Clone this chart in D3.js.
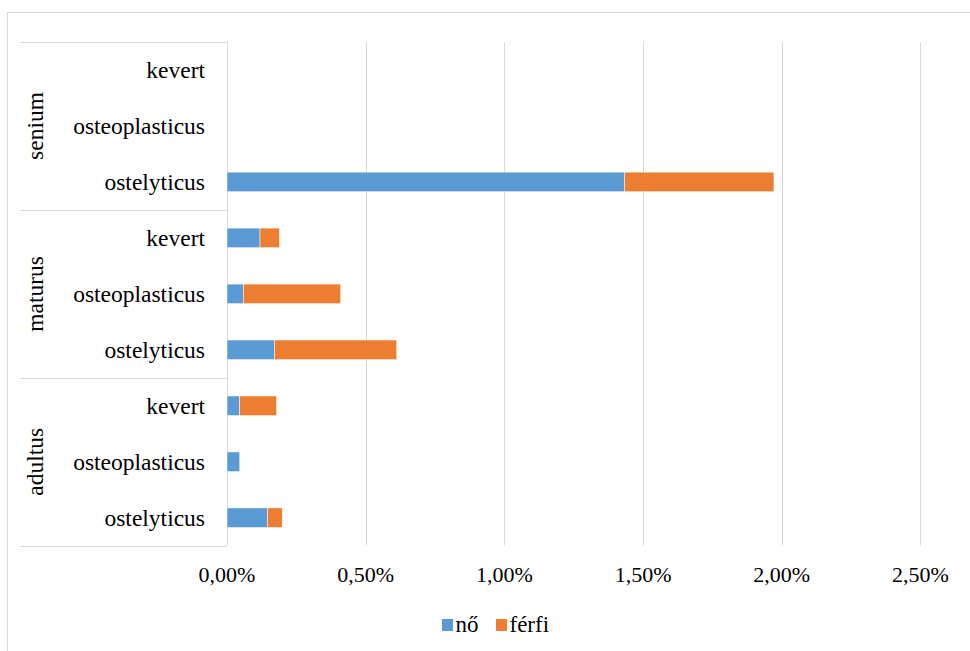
<!DOCTYPE html>
<html>
<head>
<meta charset="utf-8">
<script src="https://cdn.jsdelivr.net/npm/d3@7"></script>
</head>
<body style="margin:0; background:#fff">
<script>
// groups from top to bottom, each with its sub types
const groups = ['senium', 'maturus', 'adultus']
const types = ['kevert', 'osteoplasticus', 'ostelyticus']

// values in percent, ordered group by group, type by type (top to bottom)
const noValues = [0, 0, 1.433, 0.119, 0.059, 0.171, 0.046, 0.046, 0.146]
const ferfiValues = [0, 0, 0.539, 0.070, 0.351, 0.441, 0.133, 0, 0.053]

const seriesNames = ['nő', 'férfi']
const colors = ['#5B9BD5', '#ED7D31']
const xTicks = [0, 0.5, 1, 1.5, 2, 2.5]

const w = 970
const h = 651
const plotLeft = 227, plotRight = 920.4, plotTop = 42, plotBottom = 545.7
const serif = "'Liberation Serif'"

// build rows
const rows = []
groups.forEach((g, gi) => {
    types.forEach((t, ti) => {
        const i = gi * types.length + ti
        rows.push({ key: g + '|' + t, group: g, type: t, no: noValues[i], ferfi: ferfiValues[i] })
    })
})

const xScale = d3.scaleLinear().domain([0, 2.5]).range([plotLeft, plotRight])
const yScale = d3.scaleBand()
    .domain(rows.map(d => d.key))
    .range([plotTop, plotBottom])
    .paddingInner(0.65)
    .paddingOuter(0.325)
const groupScale = d3.scaleBand().domain(groups).range([plotTop, plotBottom])

const svg = d3.select('body')
    .append('svg')
    .attr('width', w)
    .attr('height', h)

// helper for text styling
function label(sel, size) {
    return sel.style('font-family', serif)
        .style('font-size', size + 'px')
        .style('fill', '#000')
}

// outer chart frame (only top and left visible)
svg.append('rect')
    .attr('x', 7.5).attr('y', 12.5)
    .attr('width', w + 20).attr('height', h + 20)
    .attr('fill', 'none')
    .attr('stroke', '#D9D9D9')

// gridlines
svg.append('g')
    .selectAll('line')
    .data(xTicks)
    .enter()
    .append('line')
    .attr('x1', d => Math.round(xScale(d)) + 0.5)
    .attr('x2', d => Math.round(xScale(d)) + 0.5)
    .attr('y1', plotTop)
    .attr('y2', plotBottom)
    .attr('stroke', '#D9D9D9')
    .attr('stroke-width', 1)

// category box separators
const seps = [plotTop].concat(groups.map(g => groupScale(g) + groupScale.bandwidth()))
svg.append('g')
    .selectAll('line')
    .data(seps)
    .enter()
    .append('line')
    .attr('x1', 20)
    .attr('x2', plotLeft)
    .attr('y1', d => Math.round(d) + 0.5)
    .attr('y2', d => Math.round(d) + 0.5)
    .attr('stroke', '#D9D9D9')

// stacked bars
const stack = d3.stack().keys(['no', 'ferfi'])
const stacked = stack(rows)

svg.append('g')
    .selectAll('g')
    .data(stacked)
    .enter()
    .append('g')
    .attr('fill', (d, i) => colors[i])
    .selectAll('rect')
    .data(d => d.filter(s => s[1] - s[0] > 0))
    .enter()
    .append('rect')
    .attr('x', d => xScale(d[0]))
    .attr('width', d => xScale(d[1]) - xScale(d[0]))
    .attr('y', d => yScale(d.data.key))
    .attr('height', yScale.bandwidth())
    .attr('stroke', '#fff')
    .attr('stroke-width', 0.5)

// type labels
svg.append('g')
    .selectAll('text')
    .data(rows)
    .enter()
    .append('text')
    .attr('x', 205)
    .attr('y', d => yScale(d.key) + yScale.bandwidth() / 2 + 8)
    .attr('text-anchor', 'end')
    .call(label, 23.5)
    .text(d => d.type)

// group labels, rotated
svg.append('g')
    .selectAll('text')
    .data(groups)
    .enter()
    .append('text')
    .attr('transform', d => 'translate(43,' + (groupScale(d) + groupScale.bandwidth() / 2) + ') rotate(-90)')
    .attr('text-anchor', 'middle')
    .call(label, 23.5)
    .text(d => d)

// x axis tick labels
const fmt = d => d.toFixed(2).replace('.', ',') + '%'
svg.append('g')
    .selectAll('text')
    .data(xTicks)
    .enter()
    .append('text')
    .attr('x', d => xScale(d))
    .attr('y', 582)
    .attr('text-anchor', 'middle')
    .call(label, 22)
    .text(fmt)

// legend
const legendX = [442, 496]
const legend = svg.append('g')
    .selectAll('g')
    .data(seriesNames)
    .enter()
    .append('g')
    .attr('transform', (d, i) => 'translate(' + legendX[i] + ',0)')
legend.append('rect')
    .attr('x', 0).attr('y', 619)
    .attr('width', 11).attr('height', 12)
    .attr('fill', (d, i) => colors[i])
legend.append('text')
    .attr('x', 13.5)
    .attr('y', 632)
    .call(label, 23)
    .text(d => d)
</script>
</body>
</html>
